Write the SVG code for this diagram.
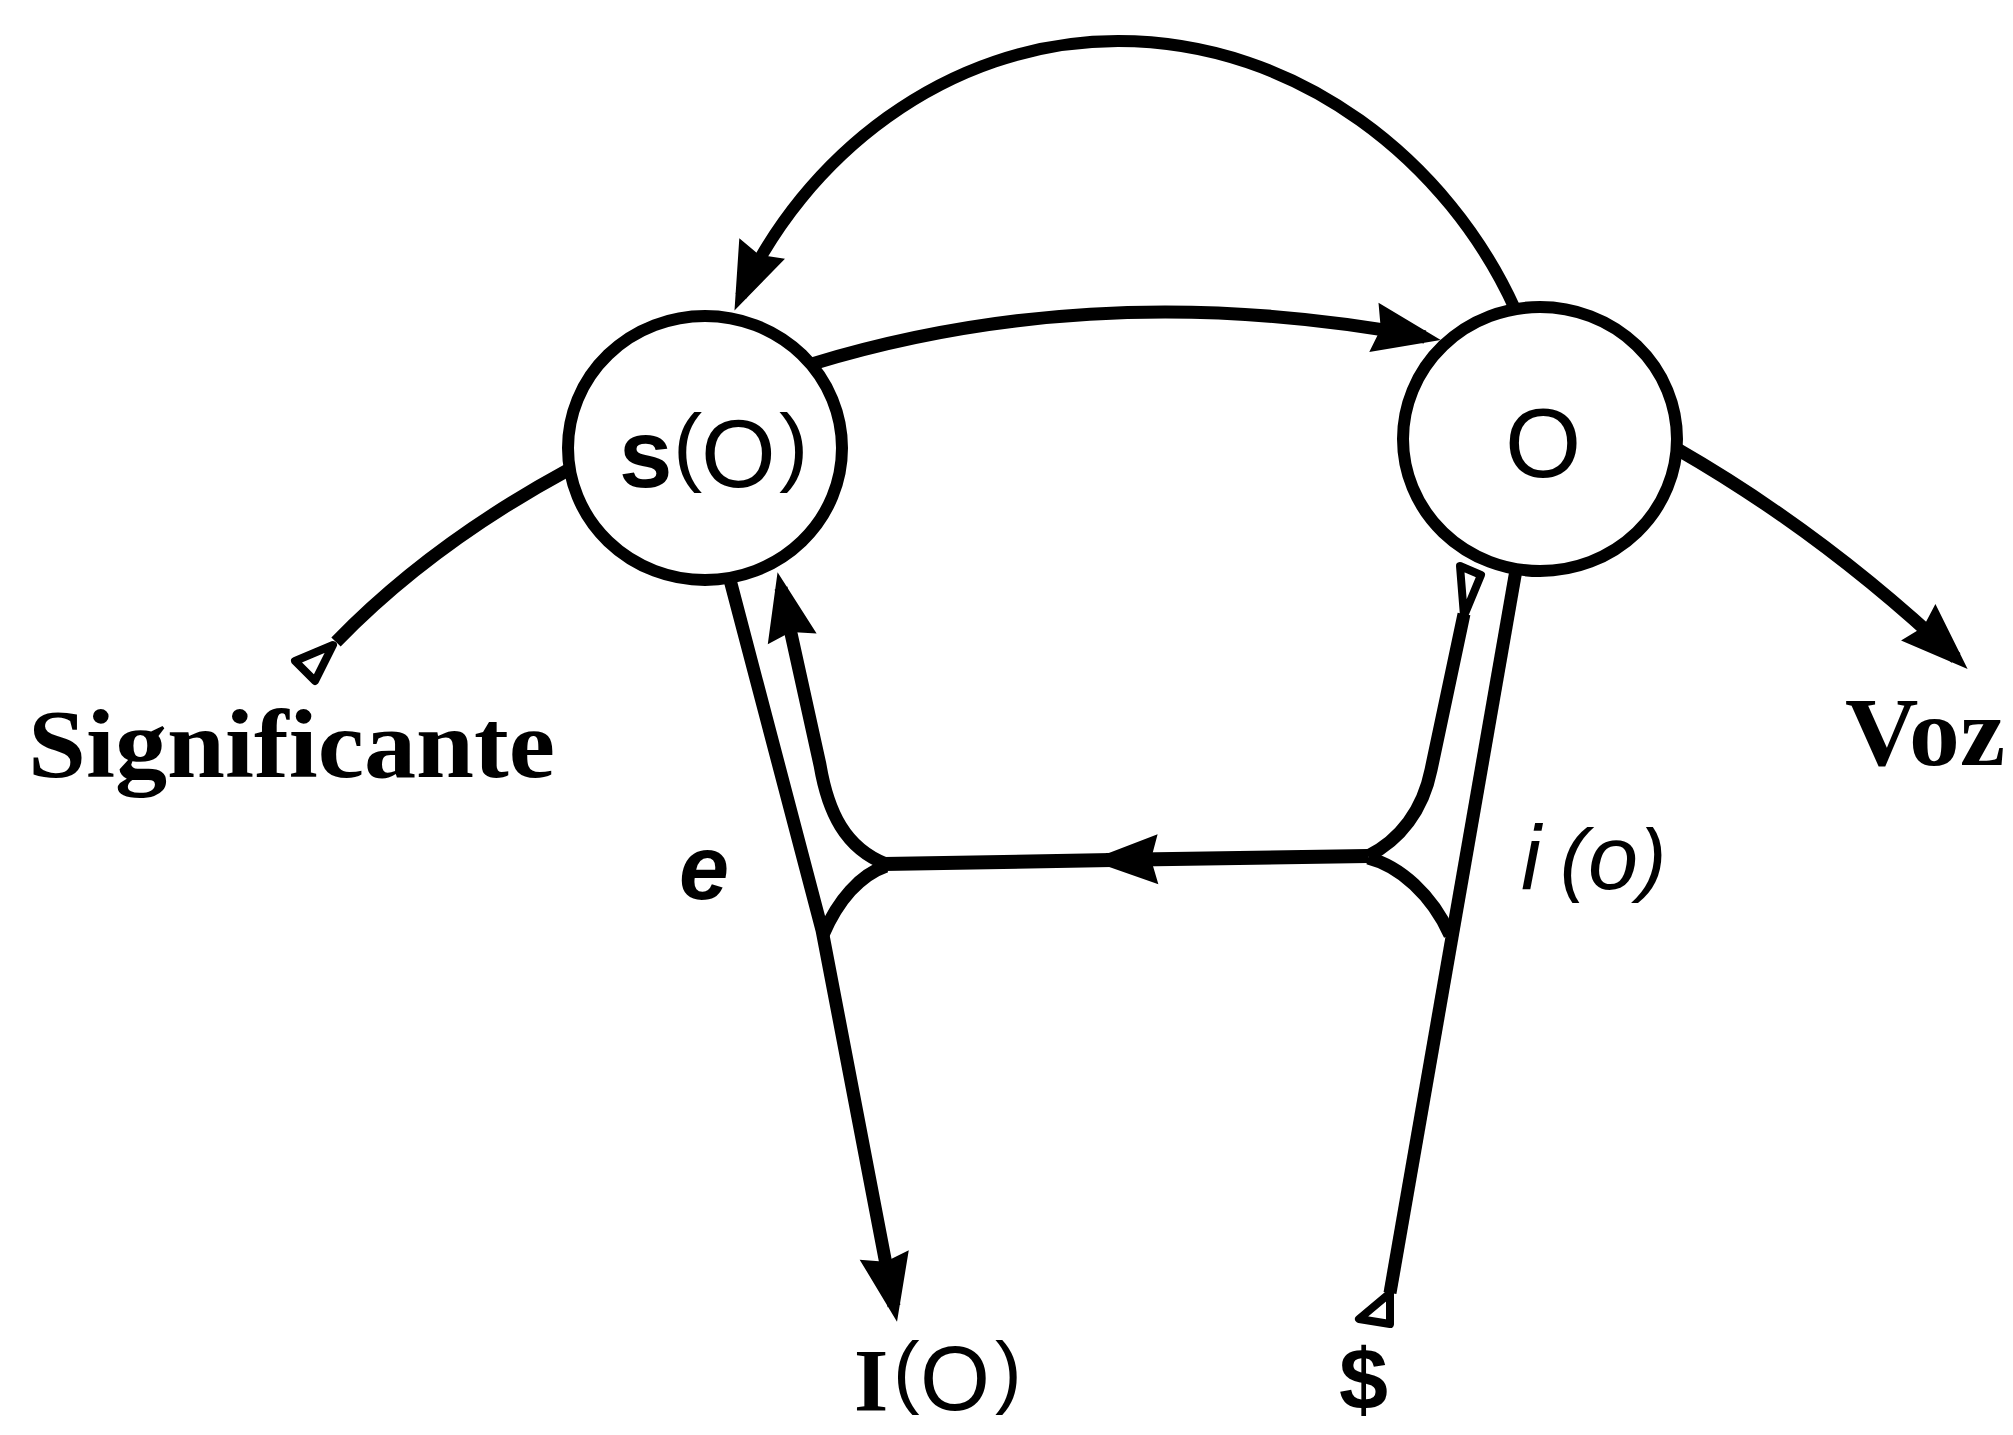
<svg xmlns="http://www.w3.org/2000/svg" width="2013" height="1435" viewBox="0 0 2013 1435">
<defs>
<style>
.ln{fill:none;stroke:#000;stroke-width:13;stroke-linejoin:round}
.arc{stroke-width:12}
.hz{stroke-width:14}
.tail{fill:#fff;stroke:#000;stroke-width:8;stroke-linejoin:round}
.nd{fill:#fff;stroke:#000;stroke-width:12}
.sans{font-family:"Liberation Sans",Arial,sans-serif;fill:#000}
.serif{font-family:"Liberation Serif","Times New Roman",serif;fill:#000;font-variant-ligatures:none}
</style>
<marker id="ah" markerUnits="userSpaceOnUse" viewBox="-60 -30 80 60" refX="0" refY="0" markerWidth="80" markerHeight="60" orient="auto"><path d="M16,0 L-52,-25 L-45,0 L-52,25 Z" fill="#000"/></marker>
</defs>
<rect width="2013" height="1435" fill="#fff"/>
<g id="connectors">
<path class="ln arc" d="M1515 309 C1449 163 1300 41 1118 41 C945 41 802 159 741 296" marker-end="url(#ah)"/>
<path class="ln" d="M812 364 Q1100 276 1425 337" marker-end="url(#ah)"/>
<path class="ln" d="M568 470 Q430 545 336 642"/>
<polygon class="tail" points="333,645 295,661 315,681"/>
<path class="ln" d="M1677 449 Q1825 534 1956 658" marker-end="url(#ah)"/>
<path class="ln" d="M729 576 L822 930 L894 1306" marker-end="url(#ah)"/>
<path class="ln" d="M886 864 C845 848 828 812 820 765 L781 588" marker-end="url(#ah)"/>
<path class="ln" d="M886 866 C860 875 838 900 823 935"/>
<path class="ln hz" d="M1368 856 L1106 860" marker-end="url(#ah)"/>
<path class="ln hz" d="M1112 860 L884 864"/>
<path class="ln" d="M1516 570 L1390 1293"/>
<polygon class="tail" points="1390,1293 1359,1319 1390,1324"/>
<path class="ln" d="M1464 614 L1431 770 C1423 810 1400 840 1368 856"/>
<path class="ln" d="M1368 858 C1400 866 1432 895 1450 935"/>
<polygon class="tail" points="1460,566 1481,575 1464,616"/>
</g>
<g id="node-sO">
<ellipse class="nd" cx="705" cy="448" rx="137" ry="132"/>
<text class="sans"><tspan x="619" y="487" font-size="96" font-weight="bold">s</tspan><tspan x="673" y="475" font-size="88">(</tspan><tspan x="701" y="487" font-size="96">O</tspan><tspan x="779" y="475" font-size="88">)</tspan></text>
</g>
<g id="node-O">
<ellipse class="nd" cx="1540" cy="439" rx="137" ry="132"/>
<text class="sans" x="1505" y="477" font-size="98">O</text>
</g>
<g id="node-significante">
<text class="serif" x="28" y="777" font-size="98" font-weight="bold" textLength="527" lengthAdjust="spacingAndGlyphs">Significante</text>
</g>
<g id="node-voz">
<text class="serif" x="1845" y="765" font-size="98" font-weight="bold" textLength="160" lengthAdjust="spacingAndGlyphs">Voz</text>
</g>
<g id="node-IO">
<text><tspan class="serif" x="854" y="1410" font-size="88" font-weight="bold">I</tspan><tspan class="sans" x="893" y="1398" font-size="80">(</tspan><tspan class="sans" x="920" y="1410" font-size="90">O</tspan><tspan class="sans" x="995" y="1398" font-size="80">)</tspan></text>
</g>
<g id="node-S">
<text class="sans" x="1339" y="1410" font-size="88" font-weight="bold">$</text>
</g>
<g id="labels">
<text class="sans" x="679" y="899" font-size="90" font-weight="bold" font-style="italic">e</text>
<text class="sans" font-style="italic"><tspan x="1521" y="889" font-size="90">i</tspan><tspan x="1560" y="886" font-size="82">(</tspan><tspan x="1588" y="889" font-size="90">o</tspan><tspan x="1639" y="886" font-size="82">)</tspan></text>
</g>
</svg>
